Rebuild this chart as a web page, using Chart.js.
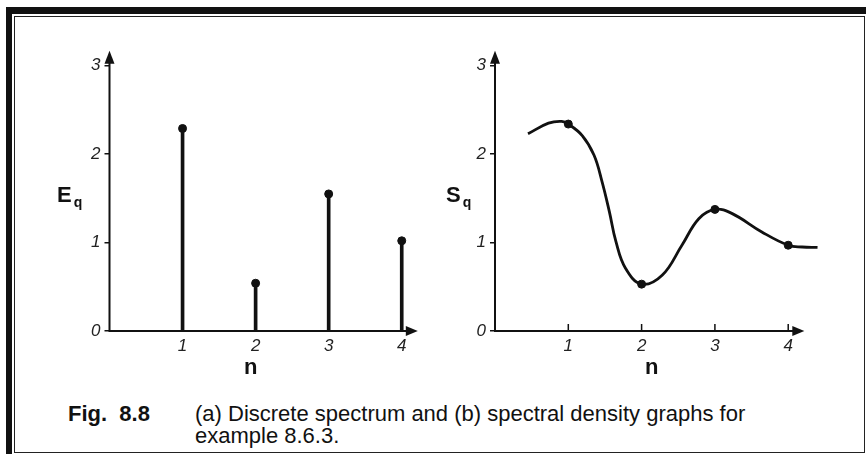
<!DOCTYPE html>
<html>
<head>
<meta charset="utf-8">
<script src="https://cdn.jsdelivr.net/npm/chart.js@4.4.1/dist/chart.umd.min.js"></script>
<style>
  html, body { margin: 0; padding: 0; background: #fff; }
  body { width: 868px; height: 456px; position: relative; overflow: hidden;
         font-family: "Liberation Sans", Arial, sans-serif; color: #111; }
  .frame-thick { position: absolute; left: 6px; top: 7px; width: 860px; height: 447px;
                 border-top: 7px solid #111; border-left: 6px solid #111; box-sizing: border-box; }
  .frame-thin { position: absolute; left: 14px; top: 16px; width: 851px; height: 437px;
                border: 1.5px solid #222; box-sizing: border-box; }
  canvas { position: absolute; top: 0; }
  #chartA { left: 0; }
  #chartB { left: 440px; }
  .lbl { position: absolute; font-weight: bold; line-height: 1; white-space: nowrap; }
  .lbl sub { font-size: 14px; position: relative; top: 5px; vertical-align: baseline; margin-left: 2px; }
  .cap { position: absolute; line-height: 22px; white-space: nowrap; font-size: 22px; }
</style>
</head>
<body>
<div class="frame-thick"></div>
<div class="frame-thin"></div>

<canvas id="chartA" width="440" height="400"></canvas>
<canvas id="chartB" width="428" height="400"></canvas>

<div class="lbl" style="left:57px; top:184px; font-size:22px;">E<sub>q</sub></div>
<div class="lbl" style="left:244px; top:356px; font-size:22px;">n</div>
<div class="lbl" style="left:446px; top:184px; font-size:22px;">S<sub>q</sub></div>
<div class="lbl" style="left:645px; top:356px; font-size:22px;">n</div>

<div class="cap" style="left:68px; top:403px; font-weight:bold;">Fig.&nbsp; 8.8</div>
<div class="cap" style="left:195px; top:403px;">(a) Discrete spectrum and (b) spectral density graphs for<br>example 8.6.3.</div>

<script>
// (a) discrete spectrum
const stemN = [1, 2, 3, 4];
const stemE = [2.29, 0.54, 1.55, 1.02];

// (b) spectral density curve
const curveN = [0.45, 0.73, 0.91, 1.0, 1.19, 1.35, 1.46, 1.56, 1.65, 1.78, 2.0, 2.28, 2.55, 2.78, 3.0, 3.23, 3.64, 4.0, 4.19, 4.4];
const curveS = [2.23, 2.35, 2.37, 2.34, 2.21, 1.99, 1.69, 1.35, 1.01, 0.71, 0.53, 0.63, 0.97, 1.27, 1.375, 1.33, 1.12, 0.97, 0.95, 0.945];
const markN = [1, 2, 3, 4];
const markS = [2.34, 0.53, 1.375, 0.97];

const nTicks = [1, 2, 3, 4];
const yTicks = [0, 1, 2, 3];

const INK = '#111';
const tickFont = { family: '"Liberation Sans", Arial, sans-serif', size: 17, style: 'italic' };

// axis lines with arrow heads, plus optional small ticks on the n axis
const axisArrows = {
    id: 'axisArrows',
    afterDatasetsDraw(chart, args, opts) {
        const { ctx, scales: { x, y } } = chart;
        const x0 = x.getPixelForValue(0);
        const y0 = y.getPixelForValue(0);
        const xTip = x.getPixelForValue(opts.xEnd);
        const yTip = y.getPixelForValue(opts.yEnd);
        ctx.save();
        ctx.strokeStyle = INK;
        ctx.fillStyle = INK;
        ctx.lineWidth = 2;
        ctx.beginPath();
        ctx.moveTo(x0, y0 + 1);
        ctx.lineTo(x0, yTip + 8);
        ctx.moveTo(x0 - 1, y0);
        ctx.lineTo(xTip - 8, y0);
        ctx.stroke();
        // up arrow
        ctx.beginPath();
        ctx.moveTo(x0, yTip);
        ctx.lineTo(x0 - 5, yTip + 13);
        ctx.lineTo(x0 + 5, yTip + 13);
        ctx.closePath();
        ctx.fill();
        // right arrow
        ctx.beginPath();
        ctx.moveTo(xTip, y0);
        ctx.lineTo(xTip - 12, y0 - 5);
        ctx.lineTo(xTip - 12, y0 + 5);
        ctx.closePath();
        ctx.fill();
        if (opts.nTickMarks) {
            ctx.lineWidth = 1.5;
            ctx.beginPath();
            nTicks.forEach(n => {
                const px = x.getPixelForValue(n);
                ctx.moveTo(px, y0);
                ctx.lineTo(px, y0 - 7);
            });
            ctx.stroke();
        }
        ctx.restore();
    }
};

function makeScales(xMax) {
    return {
        x: {
            type: 'linear',
            min: 0,
            max: xMax,
            offset: false,
            afterBuildTicks: s => { s.ticks = nTicks.map(v => ({ value: v })); },
            afterFit: s => { s.height = 30; },
            grid: { display: false, drawTicks: false },
            border: { display: false },
            ticks: { font: tickFont, color: '#222', padding: 5 }
        },
        y: {
            type: 'linear',
            min: 0,
            max: 3.2,
            afterBuildTicks: s => { s.ticks = yTicks.map(v => ({ value: v })); },
            afterFit: s => { s.width = 50; },
            grid: { display: true, drawOnChartArea: false, tickLength: 5, color: INK, lineWidth: 1.5 },
            border: { display: false },
            ticks: { font: tickFont, color: '#222', padding: 4 }
        }
    };
}

const commonPlugins = {
    legend: { display: false },
    tooltip: { enabled: false }
};

new Chart(document.getElementById('chartA'), {
    type: 'bar',
    data: {
        datasets: [
            {
                type: 'bar',
                data: stemN.map((n, i) => ({ x: n, y: stemE[i] })),
                backgroundColor: INK,
                barThickness: 3
            },
            {
                type: 'scatter',
                data: stemN.map((n, i) => ({ x: n, y: stemE[i] })),
                backgroundColor: INK,
                borderColor: INK,
                pointRadius: 4
            }
        ]
    },
    options: {
        responsive: false,
        animation: false,
        events: [],
        layout: { padding: { left: 59.5, right: 20, top: 48, bottom: 39 } },
        scales: makeScales(4.25),
        plugins: Object.assign({ axisArrows: { xEnd: 4.22, yEnd: 3.17, nTickMarks: false } }, commonPlugins)
    },
    plugins: [axisArrows]
});

new Chart(document.getElementById('chartB'), {
    type: 'line',
    data: {
        datasets: [
            {
                data: curveN.map((n, i) => ({ x: n, y: curveS[i] })),
                borderColor: INK,
                borderWidth: 2.8,
                pointRadius: 0,
                tension: 0.4,
                fill: false
            },
            {
                type: 'scatter',
                data: markN.map((n, i) => ({ x: n, y: markS[i] })),
                backgroundColor: INK,
                borderColor: INK,
                pointRadius: 4
            }
        ]
    },
    options: {
        responsive: false,
        animation: false,
        events: [],
        layout: { padding: { left: 5, right: 46.8, top: 48, bottom: 39 } },
        scales: makeScales(4.45),
        plugins: Object.assign({ axisArrows: { xEnd: 4.22, yEnd: 3.17, nTickMarks: true } }, commonPlugins)
    },
    plugins: [axisArrows]
});
</script>
</body>
</html>
